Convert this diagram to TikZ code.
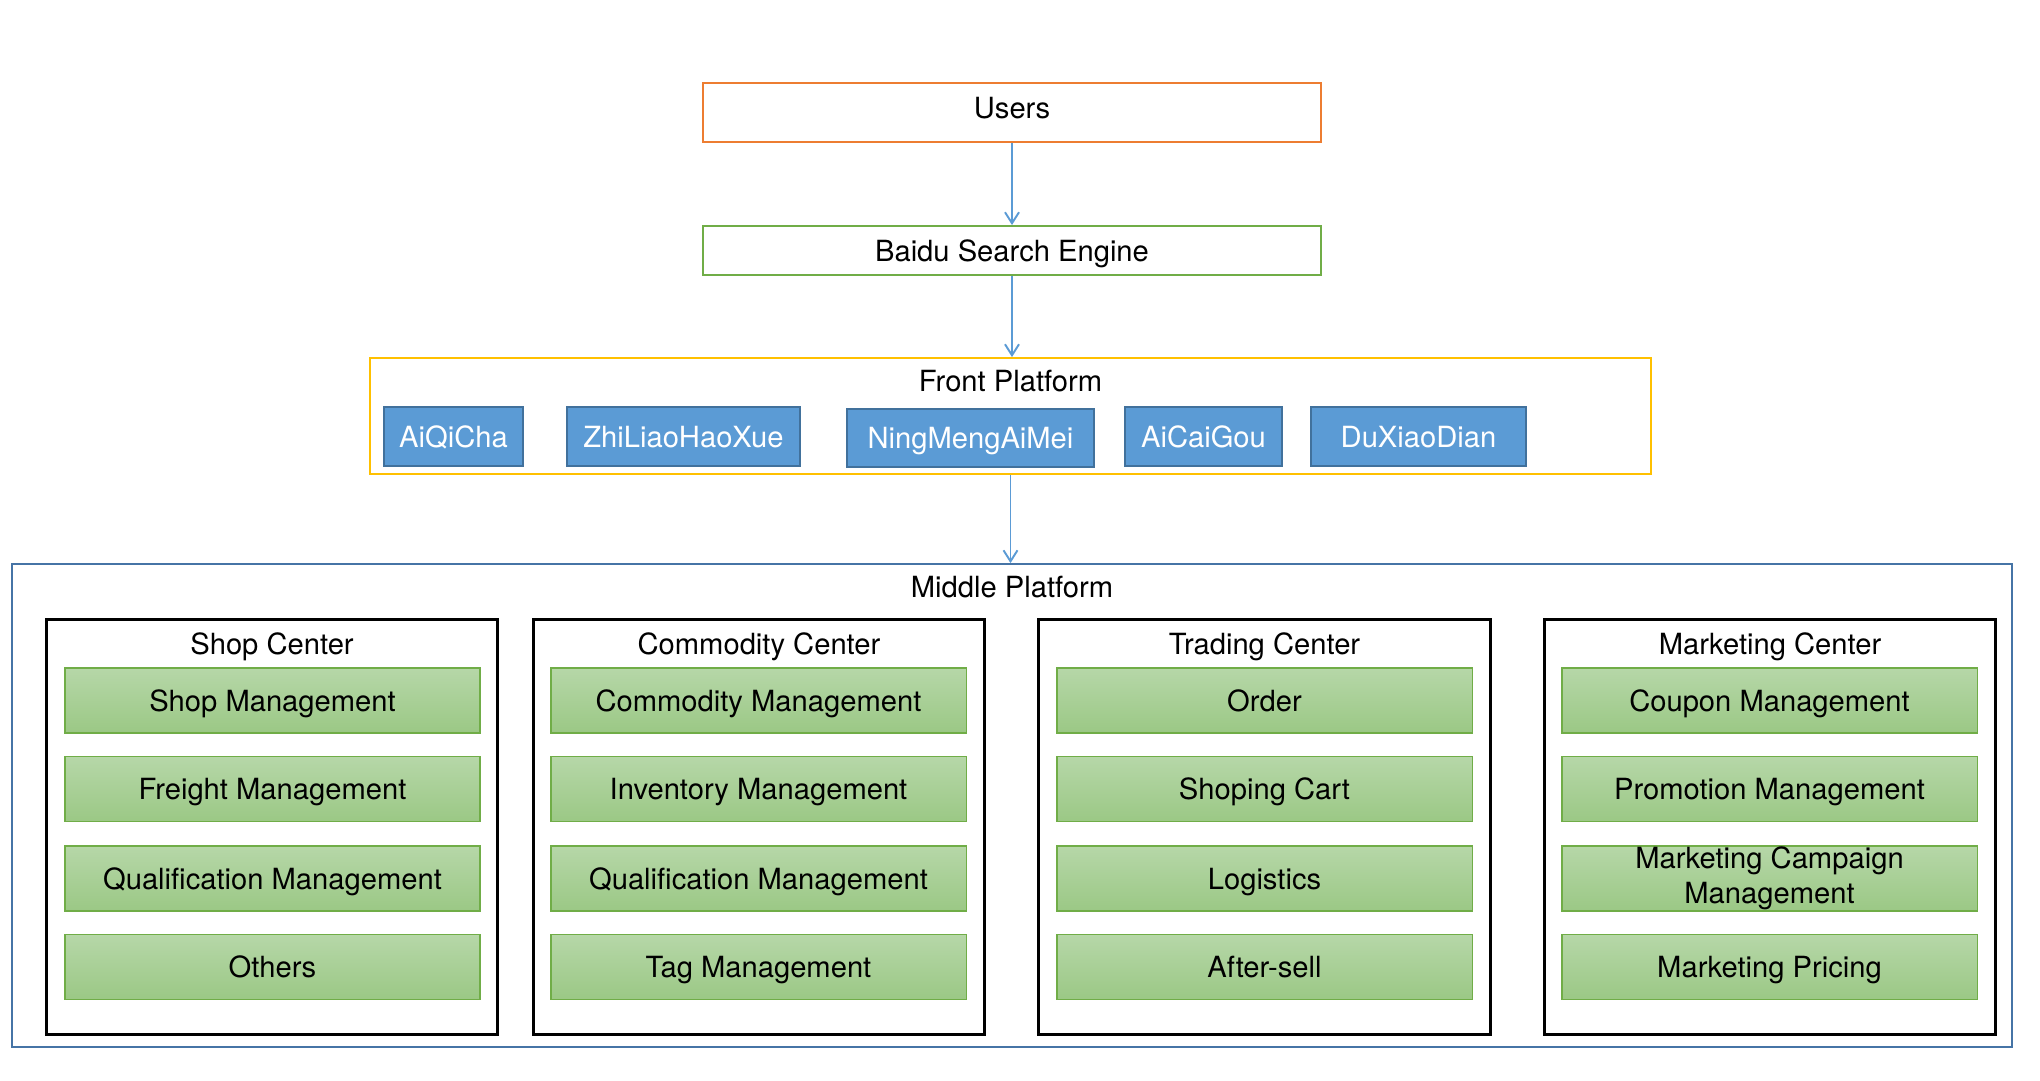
\documentclass[tikz,border=0pt]{standalone}
\usepackage{fontspec}
\setmainfont{TeX Gyre Heros}
\usepackage{xcolor}
\usetikzlibrary{arrows.meta}

\definecolor{userline}{HTML}{ED7D31}
\definecolor{engineline}{HTML}{70AD47}
\definecolor{frontline}{HTML}{FFC000}
\definecolor{appfill}{HTML}{5B9BD5}
\definecolor{appline}{HTML}{41719C}
\definecolor{middleline}{HTML}{4674A6}
\definecolor{moduletop}{HTML}{B6D7A8}
\definecolor{modulebottom}{HTML}{9BC885}
\definecolor{linkline}{HTML}{5B9BD5}

\tikzset{
  box/.style={draw, line width=1.1pt, inner sep=0pt, align=center,
    font=\fontsize{16.6}{20}\selectfont, text height=13pt, text depth=1pt},
  layerbox/.style={box, fill=white},
  appbox/.style={box, fill=appfill, draw=appline, text=white},
  centerbox/.style={box, draw=black, line width=1.7pt, fill=white,
    minimum width=9.04cm, minimum height=8.32cm},
  modulebox/.style={box, draw=engineline, top color=moduletop, bottom color=modulebottom,
    minimum width=8.32cm, minimum height=1.30cm},
  title/.style={font=\fontsize{16.6}{20}\selectfont, inner sep=0pt},
  link/.style={draw=linkline, line width=1.1pt, -{Straight Barb[length=0.22cm,width=0.28cm]}}
}

\begin{document}
\begin{tikzpicture}[x=0.02cm, y=-0.02cm]
\useasboundingbox (0,0) rectangle (2040,1080);
%% top layers
\node[layerbox, draw=userline, minimum width=12.36cm, minimum height=1.18cm, text depth=6pt] (users) at (1012,112.5) {Users};
\node[layerbox, draw=engineline, minimum width=12.36cm, minimum height=0.98cm] (baidu) at (1012,250.5) {Baidu Search Engine};
%% front platform
\node[layerbox, draw=frontline, minimum width=25.62cm, minimum height=2.32cm] (front) at (1010.5,416) {};
\node[title] (fronttitle) at (1010.5,381) {Front Platform};
\node[appbox, minimum width=2.78cm, minimum height=1.18cm] (aiqicha) at (453.5,436.5) {AiQiCha};
\node[appbox, minimum width=4.66cm, minimum height=1.18cm] (zhiliao) at (683.5,436.5) {ZhiLiaoHaoXue};
\node[appbox, minimum width=4.94cm, minimum height=1.16cm] (ningmeng) at (970.5,438) {NingMengAiMei};
\node[appbox, minimum width=3.14cm, minimum height=1.18cm] (aicaigou) at (1203.5,436.5) {AiCaiGou};
\node[appbox, minimum width=4.30cm, minimum height=1.18cm] (duxiaodian) at (1418.5,436.5) {DuXiaoDian};
%% middle platform
\node[layerbox, draw=middleline, minimum width=40cm, minimum height=9.66cm] (middle) at (1012,805.5) {};
\node[title] (middletitle) at (1012,587) {Middle Platform};
%% centers
\node[centerbox] (shop) at (272,827) {};
\node[centerbox] (commodity) at (759,827) {};
\node[centerbox] (trading) at (1264.5,827) {};
\node[centerbox] (marketing) at (1770,827) {};
\node[title] (shoptitle) at (272,647) {Shop Center};
\node[title] (commoditytitle) at (759,647) {Commodity Center};
\node[title] (tradingtitle) at (1264.5,647) {Trading Center};
\node[title] (marketingtitle) at (1770,647) {Marketing Center};
%% modules
\node[modulebox] (shop1) at (272.5,700.5) {Shop Management};
\node[modulebox] (shop2) at (272.5,789) {Freight Management};
\node[modulebox] (shop3) at (272.5,878.5) {Qualification Management};
\node[modulebox] (shop4) at (272.5,967) {Others};
\node[modulebox] (commodity1) at (758.5,700.5) {Commodity Management};
\node[modulebox] (commodity2) at (758.5,789) {Inventory Management};
\node[modulebox] (commodity3) at (758.5,878.5) {Qualification Management};
\node[modulebox] (commodity4) at (758.5,967) {Tag Management};
\node[modulebox] (trading1) at (1264.5,700.5) {Order};
\node[modulebox] (trading2) at (1264.5,789) {Shoping Cart};
\node[modulebox] (trading3) at (1264.5,878.5) {Logistics};
\node[modulebox] (trading4) at (1264.5,967) {After-sell};
\node[modulebox] (marketing1) at (1769.5,700.5) {Coupon Management};
\node[modulebox] (marketing2) at (1769.5,789) {Promotion Management};
\node[modulebox, text height={}, text depth={}] (marketing3) at (1769.5,878.5) {Marketing Campaign\\Management};
\node[modulebox] (marketing4) at (1769.5,967) {Marketing Pricing};
%%% links
\draw[link] (users) -- (baidu);
\draw[link] (baidu.south) -- (baidu.south |- front.north);
\draw[link] (front.south) -- (front.south |- middle.north);
\end{tikzpicture}
\end{document}
